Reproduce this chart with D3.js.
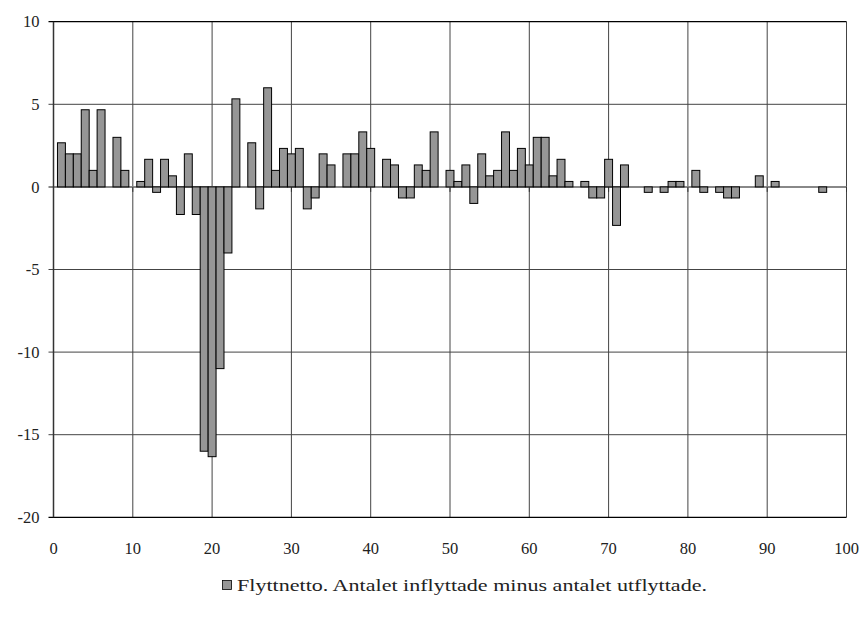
<!DOCTYPE html>
<html><head><meta charset="utf-8">
<script src="https://cdn.jsdelivr.net/npm/d3@7/dist/d3.min.js"></script>
<style>body{margin:0;background:#fff}svg{display:block}</style>
</head><body>
<script>
const ages = d3.range(0, 100);
const values = [
 0, 2.67, 2, 2, 4.67, 1, 4.67, 0, 3, 1,
 0, 0.33, 1.67, -0.33, 1.67, 0.67, -1.67, 2, -1.67, -16,
 -16.33, -11, -4, 5.33, 0, 2.67, -1.33, 6, 1, 2.33,
 2, 2.33, -1.33, -0.67, 2, 1.33, 0, 2, 2, 3.33,
 2.33, 0, 1.67, 1.33, -0.67, -0.67, 1.33, 1, 3.33, 0,
 1, 0.33, 1.33, -1, 2, 0.67, 1, 3.33, 1, 2.33,
 1.33, 3, 3, 0.67, 1.67, 0.33, 0, 0.33, -0.67, -0.67,
 1.67, -2.33, 1.33, 0, 0, -0.33, 0, -0.33, 0.33, 0.33,
 0, 1, -0.33, 0, -0.33, -0.67, -0.67, 0, 0, 0.67,
 0, 0.33, 0, 0, 0, 0, 0, -0.33, 0, 0
];
const xTicks = [0,10,20,30,40,50,60,70,80,90,100];
const yTicks = [10,5,0,-5,-10,-15,-20];
const legendLabel = "Flyttnetto. Antalet inflyttade minus antalet utflyttade.";

const W = 866, H = 619;
const L = 53.5, R = 846.5, T = 21.7, B = 517.3;
const svg = d3.select("body").append("svg").attr("width", W).attr("height", H);
const x = d3.scaleLinear().domain([0,100]).range([L,R]);
const y = d3.scaleLinear().domain([-20,10]).range([B,T]);
const font = "'Liberation Serif', 'DejaVu Serif', serif";

// gridlines
svg.append("g").selectAll("line").data(xTicks.slice(1)).join("line")
  .attr("x1", d=>x(d)).attr("x2", d=>x(d)).attr("y1", T).attr("y2", B)
  .attr("stroke", "#444").attr("stroke-width", 1);
svg.append("g").selectAll("line").data(yTicks.filter(d=>d!==0)).join("line")
  .attr("x1", L-5).attr("x2", R).attr("y1", d=>y(d)).attr("y2", d=>y(d))
  .attr("stroke", d=> (d===10||d===-20) ? "#000" : "#444").attr("stroke-width", d=> (d===10||d===-20)?1.2:1);

// zero axis line
svg.append("line").attr("x1", L-5).attr("x2", R).attr("y1", y(0)).attr("y2", y(0))
  .attr("stroke", "#888").attr("stroke-width", 2);
// ticks on zero axis
svg.append("g").selectAll("line").data(xTicks).join("line")
  .attr("x1", d=>x(d)).attr("x2", d=>x(d)).attr("y1", y(0)).attr("y2", y(0)+5)
  .attr("stroke", "#333");

// bars
const bw = x(1)-x(0);
svg.append("g").selectAll("rect").data(ages.filter((a,i)=>values[i]!==0)).join("rect")
  .attr("x", a=>x(a)-bw/2)
  .attr("width", bw)
  .attr("y", a=>y(Math.max(0, values[a])))
  .attr("height", a=>Math.abs(y(values[a])-y(0)))
  .attr("fill", "#969696").attr("stroke", "#000").attr("stroke-width", 1);

// left axis
svg.append("line").attr("x1", L).attr("x2", L).attr("y1", T).attr("y2", B)
  .attr("stroke", "#333").attr("stroke-width", 1.5);

// y labels
svg.append("g").selectAll("text").data(yTicks).join("text")
  .attr("x", L-14).attr("y", d=>y(d)).attr("dy", "0.35em")
  .attr("text-anchor", "end").attr("font-family", font).attr("font-size", 16.5)
  .attr("fill", "#222").text(d=>d);
// x labels
svg.append("g").selectAll("text").data(xTicks).join("text")
  .attr("x", d=>x(d)).attr("y", 548).attr("dy", "0.35em")
  .attr("text-anchor", "middle").attr("font-family", font).attr("font-size", 16.5)
  .attr("fill", "#222").text(d=>d);

// legend
svg.append("rect").attr("x", 222.5).attr("y", 580.5).attr("width", 9).attr("height", 9)
  .attr("fill", "#969696").attr("stroke", "#000").attr("stroke-width", 0.8);
svg.append("text").attr("x", 237).attr("y", 585).attr("dy", "0.35em")
  .attr("font-family", font).attr("font-size", 17.5).attr("fill", "#222")
  .attr("textLength", 470).attr("lengthAdjust", "spacingAndGlyphs")
  .text(legendLabel);
</script>
</body></html>
